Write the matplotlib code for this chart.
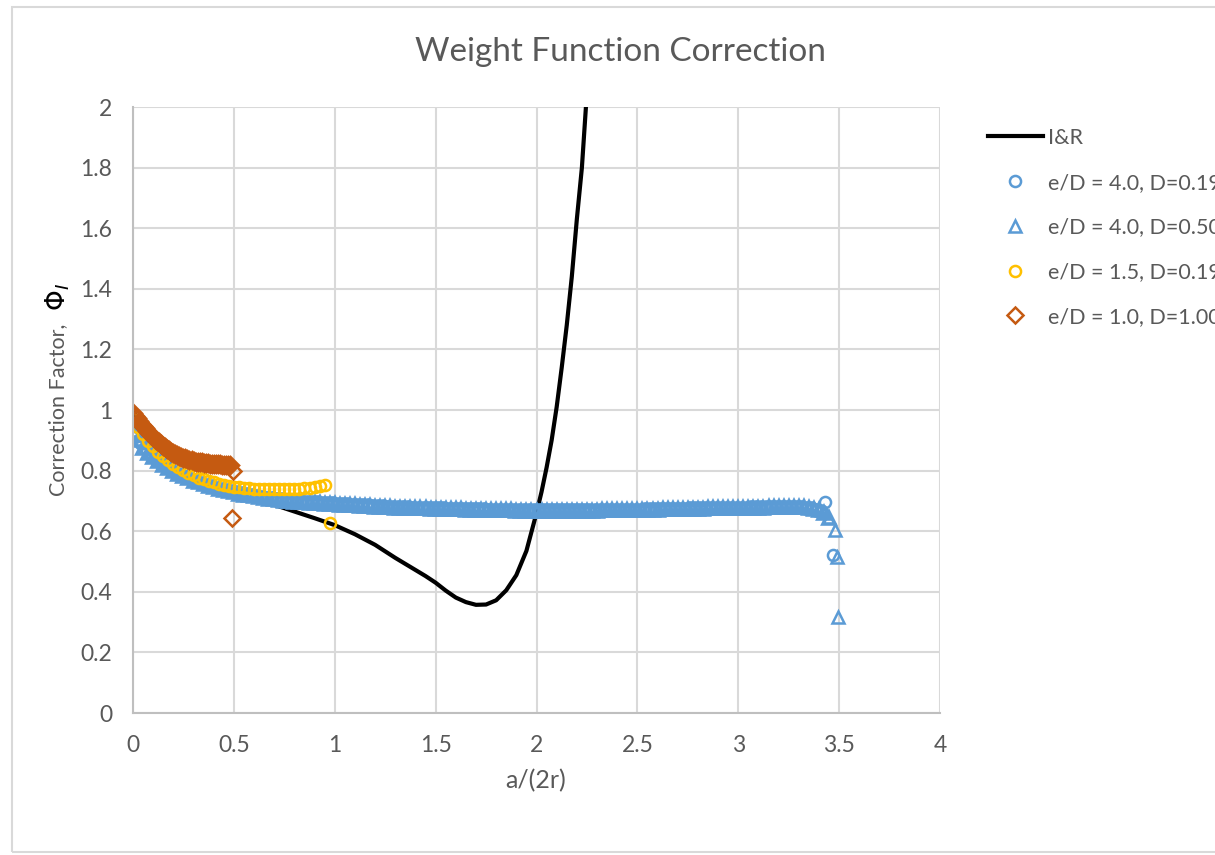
import numpy as np
import matplotlib
matplotlib.use('Agg')
import matplotlib.pyplot as plt
from matplotlib.patches import Rectangle
from matplotlib.lines import Line2D

plt.rcParams['font.family'] = ['Lato', 'DejaVu Sans']

# I&R weight function solution
ir_x = [0, 0.1, 0.2, 0.3, 0.4, 0.5, 0.6, 0.7, 0.8, 0.9, 1.0, 1.1, 1.2, 1.3, 1.4, 1.45, 1.5,
        1.55, 1.6, 1.65, 1.7, 1.75, 1.8, 1.85, 1.9, 1.95, 2.0, 2.025, 2.05, 2.075, 2.1,
        2.125, 2.15, 2.175, 2.2, 2.225, 2.25]
ir_y = [1.0, 0.88, 0.81, 0.77, 0.745, 0.724, 0.705, 0.687, 0.665, 0.643, 0.62, 0.59,
        0.555, 0.512, 0.472, 0.452, 0.430, 0.404, 0.381, 0.366, 0.357, 0.358, 0.372, 0.405,
        0.455, 0.535, 0.66, 0.73, 0.81, 0.9, 1.01, 1.14, 1.28, 1.44, 1.63, 1.80, 2.05]

# e/D = 4.0, D=0.19  (a/2r = 0.0125 ... 3.4125)
c419_y = [0.915, 0.890, 0.870, 0.855, 0.838, 0.825, 0.812, 0.802, 0.793, 0.785,
          0.778, 0.771, 0.765, 0.759, 0.754, 0.749, 0.744, 0.740, 0.736, 0.732,
          0.728, 0.725, 0.722, 0.719, 0.716, 0.713, 0.711, 0.709, 0.707, 0.705,
          0.703, 0.701, 0.700, 0.698, 0.697, 0.696, 0.695, 0.694, 0.693, 0.692,
          0.691, 0.690, 0.689, 0.688, 0.687, 0.686, 0.685, 0.684, 0.683, 0.682,
          0.681, 0.681, 0.680, 0.679, 0.679, 0.678, 0.677, 0.677, 0.676, 0.676,
          0.675, 0.675, 0.674, 0.674, 0.673, 0.673, 0.673, 0.672, 0.672, 0.672,
          0.671, 0.671, 0.671, 0.670, 0.670, 0.670, 0.670, 0.669, 0.669, 0.669,
          0.669, 0.669, 0.669, 0.669, 0.669, 0.669, 0.669, 0.669, 0.669, 0.669,
          0.669, 0.669, 0.670, 0.670, 0.670, 0.670, 0.670, 0.671, 0.671, 0.671,
          0.671, 0.672, 0.672, 0.672, 0.673, 0.673, 0.673, 0.674, 0.674, 0.674,
          0.675, 0.675, 0.675, 0.676, 0.676, 0.676, 0.677, 0.677, 0.677, 0.678,
          0.678, 0.678, 0.679, 0.679, 0.679, 0.680, 0.680, 0.680, 0.681, 0.681,
          0.681, 0.681, 0.680, 0.678, 0.675, 0.670, 0.666]
c419_x = np.linspace(0.0125, 3.4125, len(c419_y))
c419_tail_x = [3.43, 3.47]
c419_tail_y = [0.697, 0.521]

# e/D = 4.0, D=0.50  (a/2r = 0 ... 3.45)
c450_y = [0.930, 0.900, 0.876, 0.858, 0.844, 0.831, 0.819, 0.808, 0.798, 0.789,
          0.781, 0.774, 0.767, 0.761, 0.755, 0.750, 0.745, 0.740, 0.736, 0.732,
          0.728, 0.724, 0.721, 0.718, 0.715, 0.712, 0.709, 0.707, 0.705, 0.703,
          0.701, 0.699, 0.698, 0.696, 0.695, 0.694, 0.693, 0.692, 0.691, 0.690,
          0.689, 0.688, 0.687, 0.686, 0.685, 0.684, 0.683, 0.682, 0.681, 0.680,
          0.680, 0.679, 0.678, 0.678, 0.677, 0.676, 0.676, 0.675, 0.675, 0.674,
          0.674, 0.673, 0.673, 0.672, 0.672, 0.672, 0.671, 0.671, 0.671, 0.670,
          0.670, 0.670, 0.669, 0.669, 0.669, 0.669, 0.668, 0.668, 0.668, 0.668,
          0.668, 0.668, 0.668, 0.668, 0.668, 0.668, 0.668, 0.668, 0.668, 0.668,
          0.668, 0.668, 0.668, 0.669, 0.669, 0.669, 0.669, 0.669, 0.670, 0.670,
          0.670, 0.670, 0.671, 0.671, 0.671, 0.672, 0.672, 0.672, 0.673, 0.673,
          0.673, 0.674, 0.674, 0.674, 0.675, 0.675, 0.675, 0.676, 0.676, 0.676,
          0.677, 0.677, 0.677, 0.678, 0.678, 0.678, 0.679, 0.679, 0.679, 0.680,
          0.680, 0.680, 0.680, 0.679, 0.677, 0.674, 0.669, 0.660, 0.645]
c450_x = np.linspace(0, 3.45, len(c450_y))
c450_tail_x = [3.48, 3.488, 3.496]
c450_tail_y = [0.604, 0.516, 0.318]

# e/D = 1.5, D=0.19  (a/2r = 0 ... 0.95)
c1519_y = [0.970, 0.945, 0.920, 0.898, 0.880, 0.862, 0.847, 0.834, 0.822, 0.811,
           0.801, 0.792, 0.784, 0.777, 0.771, 0.766, 0.761, 0.757, 0.753, 0.750,
           0.747, 0.745, 0.743, 0.741, 0.740, 0.739, 0.738, 0.738, 0.738, 0.738,
           0.738, 0.738, 0.739, 0.740, 0.741, 0.743, 0.745, 0.748, 0.752]
c1519_x = np.linspace(0, 0.95, len(c1519_y))
c1519_tail_x = [0.976]
c1519_tail_y = [0.627]

# e/D = 1.0, D=1.00  (a/2r = 0 ... 0.48)
c110_y = [0.990, 0.981, 0.972, 0.963, 0.955, 0.947, 0.940, 0.932, 0.925, 0.918,
          0.912, 0.905, 0.899, 0.893, 0.888, 0.882, 0.877, 0.872, 0.867, 0.862,
          0.858, 0.854, 0.851, 0.848, 0.845, 0.842, 0.840, 0.838, 0.836, 0.834,
          0.832, 0.830, 0.829, 0.828, 0.827, 0.826, 0.825, 0.824, 0.823, 0.823,
          0.822, 0.822, 0.821, 0.821, 0.820, 0.820, 0.819, 0.819, 0.818]
c110_x = np.linspace(0, 0.48, len(c110_y))
c110_tail_x = [0.495, 0.49]
c110_tail_y = [0.80, 0.644]

labels = ['I&R', 'e/D = 4.0, D=0.19', 'e/D = 4.0, D=0.50', 'e/D = 1.5, D=0.19',
          'e/D = 1.0, D=1.00']

blue = '#5B9BD5'
yellow = '#FFC000'
orange = '#C55A11'
grey_txt = '#595959'
grid_c = '#D9D9D9'

fig = plt.figure(figsize=(12.15, 8.55), dpi=100)
fig.patches.append(Rectangle((12 / 1215, 3 / 855), 1.2, 845 / 855, transform=fig.transFigure,
                             fill=False, ec=grid_c, lw=1.5))
ax = fig.add_axes([133 / 1215, 1 - 713 / 855, 807 / 1215, 606 / 855])

# dense runs get a heavier edge so the overlapping markers merge like in Excel
dense = dict(ls='none', mfc='none', ms=8, mew=2.6)
single = dict(ls='none', mfc='none', ms=8, mew=1.8)
ax.plot(ir_x, ir_y, color='black', lw=3, solid_capstyle='butt')
ax.plot(c419_x, c419_y, marker='o', mec=blue, **dense)
ax.plot(c419_tail_x, c419_tail_y, marker='o', mec=blue, **single)
ax.plot(c450_x, c450_y, marker='^', mec=blue, **dense)
ax.plot(c450_tail_x, c450_tail_y, marker='^', mec=blue, **single)
ax.plot(c1519_x, c1519_y, marker='o', mec=yellow, **single)
ax.plot(c1519_tail_x, c1519_tail_y, marker='o', mec=yellow, **single)
ax.plot(c110_x, c110_y, marker='D', mec=orange, ls='none', mfc='none', ms=8.5, mew=2.4)
ax.plot(c110_tail_x, c110_tail_y, marker='D', mec=orange, ls='none', mfc='none', ms=8, mew=1.8)

ax.set_xlim(0, 4)
ax.set_ylim(0, 2)
ax.set_xticks(np.arange(0, 4.01, 0.5))
ax.set_xticklabels(['0', '0.5', '1', '1.5', '2', '2.5', '3', '3.5', '4'])
ax.set_yticks(np.arange(0, 2.01, 0.2))
ax.set_yticklabels(['0', '0.2', '0.4', '0.6', '0.8', '1', '1.2', '1.4', '1.6', '1.8', '2'])
ax.grid(True, color=grid_c, lw=1.5)
ax.set_axisbelow(True)
for s in ['top', 'right']:
    ax.spines[s].set_visible(False)
for s in ['left', 'bottom']:
    ax.spines[s].set_color('#BFBFBF')
    ax.spines[s].set_linewidth(1.5)
ax.tick_params(length=0, labelsize=16.5, labelcolor=grey_txt)
ax.tick_params(axis='x', pad=16)
ax.tick_params(axis='y', pad=15)

fig.text(620 / 1215, 1 - 52 / 855, 'Weight Function Correction', ha='center', va='center',
         fontsize=24, color=grey_txt)
fig.text(536 / 1215, 1 - 781 / 855, 'a/(2r)', ha='center', va='center', fontsize=18,
         color=grey_txt)
fig.text(58 / 1215, 1 - 410 / 855, 'Correction Factor,', ha='center', va='center',
         rotation=90, fontsize=15.5, color=grey_txt)
fig.text(58 / 1215, 1 - 297 / 855, r'$\Phi_I$', ha='center', va='center', rotation=90,
         fontsize=19, color='black', family='DejaVu Serif')

handles = [Line2D([], [], color='black', lw=3),
           Line2D([], [], marker='o', mec=blue, **single),
           Line2D([], [], marker='^', mec=blue, **single),
           Line2D([], [], marker='o', mec=yellow, **single),
           Line2D([], [], marker='D', mec=orange, **single)]
ax.legend(handles, labels, loc='upper left', bbox_to_anchor=(988 / 1215, 1 - 128 / 855),
          bbox_transform=fig.transFigure, frameon=False, fontsize=15.5, labelcolor=grey_txt,
          handlelength=2.55, handletextpad=0.23, labelspacing=1.15, borderpad=0,
          borderaxespad=0)

fig.savefig('out.png', dpi=100)
